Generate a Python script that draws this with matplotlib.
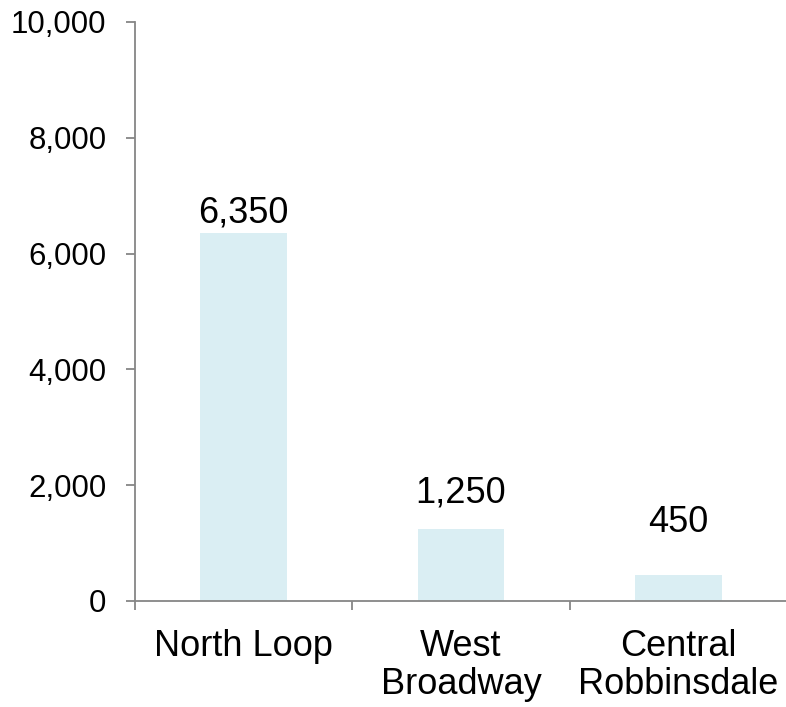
import matplotlib.pyplot as plt
from matplotlib.ticker import FuncFormatter

categories = ['North Loop', 'West\nBroadway', 'Central\nRobbinsdale']
values = [6350, 1250, 450]
# gap between each bar top and its label baseline, in points
label_offsets = [8, 19, 31]

plt.rcParams['font.family'] = ['Liberation Sans', 'DejaVu Sans']

fig = plt.figure(figsize=(7.86, 7.07), dpi=100)
ax = fig.add_axes([135 / 786, 0.150, 652 / 786, 0.819])

x = list(range(len(categories)))
bars = ax.bar(x, values, width=0.4, color='#DAEEF3', zorder=2)

for xi, v, off in zip(x, values, label_offsets):
    ax.annotate(f'{v:,}', xy=(xi, v), xytext=(0, off), textcoords='offset points',
                ha='center', va='baseline', fontsize=26, color='black')

ax.set_xlim(-0.5, 2.5)
ax.set_ylim(0, 10000)
ax.set_yticks(range(0, 10001, 2000))
ax.yaxis.set_major_formatter(FuncFormatter(lambda v, p: f'{int(v):,}'))

# category ticks sit between the groups
ax.set_xticks([-0.5, 0.5, 1.5, 2.5])
ax.set_xticklabels([])
ax.set_xticks(x, minor=True)
ax.set_xticklabels(categories, minor=True, fontsize=26, linespacing=1.1)
ax.tick_params(axis='x', which='minor', length=0, pad=20.5)
ax.tick_params(axis='x', which='major', length=6.5, width=1.3, color='#868686', direction='out')
ax.tick_params(axis='y', length=6.5, width=1.3, color='#868686', labelsize=22.5, pad=14)

for side in ['top', 'right']:
    ax.spines[side].set_visible(False)
for side in ['left', 'bottom']:
    ax.spines[side].set_color('#868686')
    ax.spines[side].set_linewidth(1.3)
ax.spines['bottom'].set_zorder(3)

fig.savefig('out.png', dpi=100)
